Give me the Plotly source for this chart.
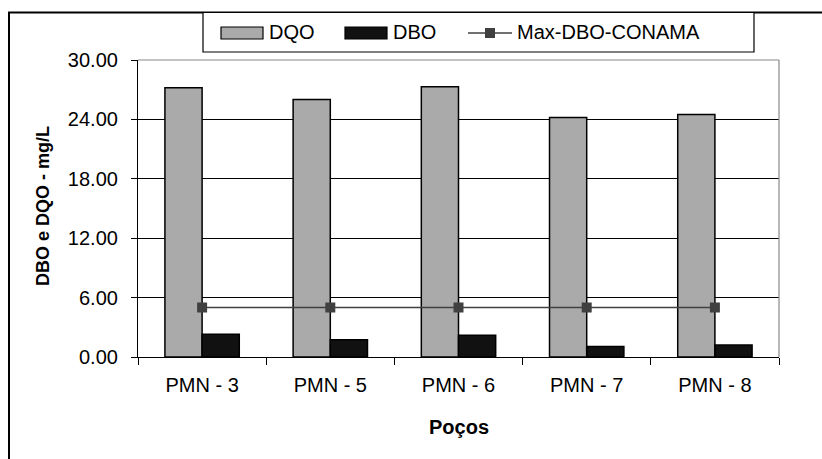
import plotly.graph_objects as go

categories = ["PMN - 3", "PMN - 5", "PMN - 6", "PMN - 7", "PMN - 8"]
dqo = [27.2, 26.0, 27.3, 24.2, 24.5]
dbo = [2.3, 1.75, 2.2, 1.05, 1.2]
max_dbo = [5, 5, 5, 5, 5]
y_ticks = [0, 6, 12, 18, 24, 30]

W, H = 822, 459
L, R, T, B = 138, 779, 60, 357
FONT = "Liberation Sans"

def px(x):
    return (x - L) / (R - L)

def py(y):
    return (B - y) / (B - T)

fig = go.Figure()
fig.add_trace(go.Bar(x=categories, y=dqo, name="DQO",
                     marker=dict(color="#aaaaaa", line=dict(color="#000000", width=1.5)),
                     showlegend=False))
fig.add_trace(go.Bar(x=categories, y=dbo, name="DBO",
                     marker=dict(color="#111111", line=dict(color="#000000", width=1.5)),
                     showlegend=False))
fig.add_trace(go.Scatter(x=categories, y=max_dbo, name="Max-DBO-CONAMA", mode="lines+markers",
                         line=dict(color="#404040", width=1.5),
                         marker=dict(symbol="square", size=10, color="#404040"),
                         showlegend=False))

shapes = []
# outer frame (left + top visible)
shapes.append(dict(type="rect", xref="paper", yref="paper",
                   x0=px(9), x1=px(840), y0=py(12.5), y1=py(480),
                   line=dict(color="#000000", width=2), layer="below"))
# plot-area border top/right (gray)
shapes.append(dict(type="line", xref="paper", yref="paper", x0=0, x1=1, y0=1, y1=1,
                   line=dict(color="#888888", width=1.2)))
shapes.append(dict(type="line", xref="paper", yref="paper", x0=1, x1=1, y0=0, y1=1,
                   line=dict(color="#888888", width=1.2)))
# legend box
shapes.append(dict(type="rect", xref="paper", yref="paper",
                   x0=px(203), x1=px(754), y0=py(12.5), y1=py(52),
                   line=dict(color="#000000", width=1.2), fillcolor="white"))
# legend swatches
shapes.append(dict(type="rect", xref="paper", yref="paper",
                   x0=px(221), x1=px(263), y0=py(27), y1=py(39),
                   line=dict(color="#000000", width=1.2), fillcolor="#aaaaaa"))
shapes.append(dict(type="rect", xref="paper", yref="paper",
                   x0=px(345), x1=px(387), y0=py(27), y1=py(39),
                   line=dict(color="#000000", width=1.2), fillcolor="#111111"))
shapes.append(dict(type="line", xref="paper", yref="paper",
                   x0=px(468), x1=px(512), y0=py(33), y1=py(33),
                   line=dict(color="#404040", width=1.5)))
shapes.append(dict(type="rect", xref="paper", yref="paper",
                   x0=px(485), x1=px(495), y0=py(28), y1=py(38),
                   line=dict(color="#404040", width=0), fillcolor="#404040"))

annotations = [
    dict(text="DQO", x=px(267), y=py(32), xref="paper", yref="paper", xanchor="left",
         yanchor="middle", showarrow=False, font=dict(family=FONT, size=20, color="#000")),
    dict(text="DBO", x=px(391), y=py(32), xref="paper", yref="paper", xanchor="left",
         yanchor="middle", showarrow=False, font=dict(family=FONT, size=20, color="#000")),
    dict(text="Max-DBO-CONAMA", x=px(515), y=py(32), xref="paper", yref="paper", xanchor="left",
         yanchor="middle", showarrow=False, font=dict(family=FONT, size=20, color="#000")),
    dict(text="<b>DBO e DQO - mg/L</b>", x=px(43), y=py(206), xref="paper", yref="paper",
         xanchor="center", yanchor="middle", textangle=-90, showarrow=False,
         font=dict(family=FONT, size=18, color="#000")),
    dict(text="<b>Poços</b>", x=0.5, y=py(427), xref="paper", yref="paper",
         xanchor="center", yanchor="middle", showarrow=False,
         font=dict(family=FONT, size=20, color="#000")),
]

fig.update_layout(
    width=W, height=H,
    margin=dict(l=L, r=W - R, t=T, b=H - B, pad=0),
    paper_bgcolor="white", plot_bgcolor="white",
    barmode="group", bargap=0.42, bargroupgap=0,
    shapes=shapes, annotations=annotations,
    font=dict(family=FONT, size=20, color="#000"),
    showlegend=False,
)
fig.update_xaxes(type="category", showgrid=False, showline=True, linecolor="#000", linewidth=1.2,
                 ticks="outside", tickson="boundaries", ticklen=7, tickcolor="#000", tickwidth=1.2,
                 ticklabelstandoff=10,
                 tickfont=dict(family=FONT, size=20, color="#000"), range=[-0.5, 4.5])
fig.update_yaxes(range=[0, 30], tickvals=y_ticks, tickformat=".2f", showgrid=True,
                 gridcolor="#000", gridwidth=1, showline=True, linecolor="#000", linewidth=1.2,
                 ticks="outside", ticklen=6, tickcolor="#000", tickwidth=1.2, zeroline=False,
                 ticklabelstandoff=9,
                 tickfont=dict(family=FONT, size=20, color="#000"))

fig.write_html("out.html")
